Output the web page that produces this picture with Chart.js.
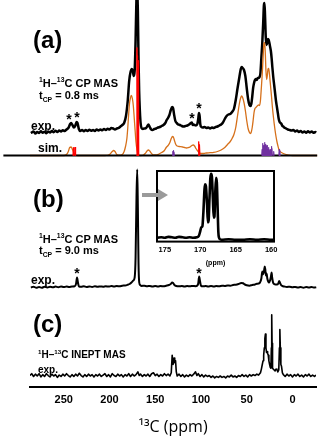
<!DOCTYPE html>
<html>
<head>
<meta charset="utf-8">
<script src="https://cdn.jsdelivr.net/npm/chart.js@4.4.1/dist/chart.umd.min.js"></script>
<style>
body { margin: 0; background: #fff; }
#wrap { position: relative; width: 320px; height: 446px; overflow: hidden; font-family: "Liberation Sans", Arial, sans-serif; font-weight: bold; color: #000; }
canvas { position: absolute; left: 0; }
.t { position: absolute; white-space: nowrap; line-height: 1; }
.star { position: absolute; font-size: 14px; line-height: 1; transform: translateX(-50%); }
sup, sub { font-size: 0.62em; line-height: 0; }
</style>
</head>
<body>
<div id="wrap">
  <canvas id="ca" width="320" height="160" style="top:0"></canvas>
  <canvas id="cb" width="320" height="140" style="top:158px"></canvas>
  <canvas id="cc" width="320" height="146" style="top:300px"></canvas>
  <canvas id="ci" width="132" height="99" style="left:150px;top:168px"></canvas>

  <div class="t" style="left:33px;top:28px;font-size:24px">(a)</div>
  <div class="t" style="left:39px;top:78px;font-size:11px"><sup>1</sup>H–<sup>13</sup>C CP MAS</div>
  <div class="t" style="left:39px;top:90px;font-size:11px">t<sub>CP</sub> = 0.8 ms</div>
  <div class="t" style="left:31px;top:120px;font-size:12px">exp.</div>
  <div class="t" style="left:38px;top:142px;font-size:12px">sim.</div>
  <div class="star" style="left:69px;top:112px">*</div>
  <div class="star" style="left:77px;top:110px">*</div>
  <div class="star" style="left:192px;top:111px">*</div>
  <div class="star" style="left:199px;top:101px">*</div>

  <div class="t" style="left:33px;top:187px;font-size:24px">(b)</div>
  <div class="t" style="left:39px;top:234px;font-size:11px"><sup>1</sup>H–<sup>13</sup>C CP MAS</div>
  <div class="t" style="left:39px;top:245px;font-size:11px">t<sub>CP</sub> = 9.0 ms</div>
  <div class="t" style="left:31px;top:274px;font-size:12px">exp.</div>
  <div class="star" style="left:77px;top:266px">*</div>
  <div class="star" style="left:199px;top:266px">*</div>
  <svg style="position:absolute;left:140px;top:188px" width="30" height="14"><path d="M2 5 H18 V1 L28 7 L18 13 V9 H2 Z" fill="#9a9a9a"/></svg>

  <div class="t" style="left:33px;top:312px;font-size:24px">(c)</div>
  <div class="t" style="left:38px;top:350px;font-size:10px"><sup>1</sup>H–<sup>13</sup>C INEPT MAS</div>
  <div class="t" style="left:38px;top:365px;font-size:10px">exp.</div>
</div>
<script>
// tick labels
const ppmTicks = [250, 200, 150, 100, 50, 0];
const insetTicks = [175, 170, 165, 160];

// (a) CP 0.8 ms, experimental trace [ppm, intensity]
const expA = [[286,0],[283,1.5],[281,-0.5],[279,1],[277,0],[275,1.8],[273,0.3],[271,1.2],[269,-0.3],[267,1.5],[265,0.5],[263,2],[261,0.8],[259,2.2],[257,1],[255,2.5],[253,1.5],[251,2.8],[249,2],[247,3.5],[245,5],[243,9],[242,10],[240.5,8],[239,5.5],[237.5,7],[236,11],[235,10],[233.5,4],[232,2],[230,3],[228,1.8],[226,3],[224,2],[222,3.2],[220,2.2],[218,3],[216,2],[214,3.5],[212,2.5],[210,3.5],[208,2.8],[206,4],[204,3],[202,4.2],[200,3.5],[198,5],[196,4.5],[194,3.5],[192,4.5],[190,5],[188,6.5],[186,8],[184,10],[182,17],[180,33],[178.5,52],[177,61],[175.5,64],[174.5,62],[173.5,57],[172.5,62],[171.5,92],[170.6,132],[169.8,140],[169,122],[168.3,75],[167.6,42],[166.8,22],[166,10],[165,5],[163.5,4],[162,4.5],[160,5],[158.5,7],[157.5,8.5],[156,6],[154.5,3.5],[153,3],[151,4],[149,4.5],[147,5.5],[145,6],[143,7],[141,8],[139,10],[137.5,13],[136,15],[134.5,18],[133,23],[131.5,26],[130.5,25],[129.5,19],[128,12],[126.5,10],[125,8.5],[123,8],[121,7],[119,6.5],[117,7],[115,7.5],[113,8.5],[111,10],[110,10.5],[109,8],[108,8.5],[107,8],[105.5,7.5],[104,9],[103,14],[102.2,20],[101.5,17],[100.8,9],[99.5,6],[98,5.5],[96,6],[94,5],[92,5.5],[90,4.5],[88,5.5],[86,5],[84,6],[82,6.5],[80,7.5],[78,8.5],[76,10.5],[74,14],[72,17],[70,18.5],[68,19],[66,21],[64,24],[62,33],[60,45],[58,56],[56.5,64],[55.5,66],[54.5,65],[53,63],[51.5,57],[50,45],[48.5,34],[47,28],[46,27],[45,29],[44,36],[43,45],[42,50],[41,53],[40,54],[39,53],[38,55],[37,55],[36,56],[35,60],[34,75],[33,90],[32,110],[31.2,128],[30.6,130],[30,118],[29.2,96],[28.4,88],[27.6,90],[26.8,94],[26,93],[25.2,90],[24.4,86],[23.6,82],[22.8,75],[22,66],[21,56],[20,48],[19,40],[18,32],[17,26],[16,20],[15,14],[14,11],[13,10],[12,9],[11,7],[10,6.5],[9,5.5],[8,5],[7,4.5],[6,4],[5,3.5],[3,3],[1,2.5],[-1,3],[-3,1.5],[-5,2.5],[-7,1],[-9,2],[-11,0.5],[-13,1.5],[-15,0.3],[-17,1.8],[-19,0.5],[-21,1.5],[-23,0.2],[-25,1],[-26,0.5]];

// (a) simulated spectrum
const simA = [[287,0],[250,0],[247,1],[245,4],[243.5,8],[242,8.5],[240.5,6],[239,2.5],[237,0.5],[235,0],[205,0],[200,1],[197,4],[195.5,5],[194,4],[192,1],[190,0.3],[186,1],[184,4],[182.5,9],[181,17],[180,28],[179,42],[178,53],[177,58],[176,60],[175,57],[174,50],[173,38],[172,25],[171,13],[170,6],[169,2],[168,0.5],[166,0],[163,0.5],[161,2],[159,4.5],[157.5,5.5],[156,4.5],[154,2],[152,0.5],[149,0.5],[146,1.5],[143,3],[140,5],[138,8],[136,10],[134,13],[132.5,17],[131,19],[130,18],[129,15],[127.5,11],[126,9.5],[124,9],[122,8.8],[120,8.5],[118,8],[116,7.5],[114,7.8],[112,8.5],[110,10],[108.5,10.5],[107,9.5],[105.5,7],[104,5],[102,3],[100,2],[97,2],[94,2.5],[90,2.8],[86,3.2],[82,4],[78,5.5],[74,8],[71,11],[68,14],[66,17],[64,21],[62,28],[60,40],[58,52],[56.5,58],[55.5,59.5],[54.5,58],[53,53],[51.5,45],[50,35],[48.5,27],[47,23],[46,22],[45,23.5],[44,28],[43,35],[42,43],[41,47],[40,48],[39,49],[38,50],[37,50.5],[36,50],[35,55],[34,68],[33,82],[32,100],[31.2,112],[30.5,113],[29.8,105],[29,85],[28.2,76],[27.5,80],[26.8,86],[26,87],[25.2,82],[24.4,74],[23.6,66],[22.8,58],[22,49],[21,40],[20,32],[19,25],[18,19],[17,14],[16,10],[15,6.5],[14,4.5],[12,3],[10,2],[7,1],[4,0.4],[0,0],[-27,0]];
const simBaseA = [[316,0],[-27,0]];
// assigned lines [ppm, height]
const redA = [[239.5,8],[237.6,8.5],[170.0,108],[169.3,100],[168.7,95],[102.5,14],[101.6,11]];
const purpleA = [[131,4],[130.2,5],[129.5,3.5],[33.2,6],[32.5,12],[31.8,8],[31.2,10],[30.5,13],[29.8,9],[29.2,11],[28.5,7],[27.8,10],[27,6],[26.2,8],[25.5,5],[24.5,6],[23,9],[22.4,7],[20.5,4],[14.5,6],[13.8,5]];

// (b) CP 9.0 ms
const expB = [[286,0],[283,0.8],[280,-0.3],[277,0.6],[274,-0.2],[271,0.7],[268,0],[265,0.8],[262,0.2],[259,0.9],[256,0.3],[253,1],[250,0.4],[247,0.9],[244,0.5],[241,1],[238,1.2],[236.5,4],[235.5,10],[234.5,5],[233.5,1.2],[231,0.8],[228,1.2],[225,0.5],[222,1.1],[219,0.6],[216,1.2],[213,0.7],[210,1.1],[207,0.8],[204,1.3],[201,0.9],[198,1.4],[195,1],[192,1.5],[189,1.2],[186,1.8],[183,2],[180,2.8],[178,3.5],[176,5],[174,7],[172.5,10],[171.5,30],[170.5,90],[169.7,118],[169,80],[168.3,25],[167.5,5],[166.5,2.5],[165,1.5],[162,1.8],[159,1.2],[156,1.6],[153,1],[150,1.4],[147,1],[144,1.5],[141,1.2],[138,1.8],[135,2.5],[133,3.5],[131.5,5],[130.5,4.5],[129,2.5],[127,1.5],[124,1.2],[121,1.5],[118,1],[115,1.5],[112,1.2],[109,1.6],[106,1.3],[104,2],[103,4],[102,11],[101,6],[100,1.8],[98,1.2],[95,1.5],[92,1],[89,1.4],[86,1],[83,1.5],[80,1.2],[77,1.8],[74,1.5],[71,2],[68,1.8],[65,2.5],[62,2.8],[59,3.5],[56,4.5],[54,4.2],[52,3],[50,2.2],[47,1.8],[44,2.5],[41,3],[39,3.8],[37,4],[35.5,5],[34,9],[33,16],[32.5,13],[31.8,14],[31,17],[30.3,21],[29.7,18],[29,12],[28.3,14],[27.5,9],[26.5,6],[25.5,5],[24.5,7],[23.5,11],[22.8,15],[22.2,10],[21.2,5],[20,3.5],[18.5,3],[17,3],[15.5,4],[14.5,6.5],[13.8,5],[12.5,2.5],[11,1.5],[9,1],[6,0.5],[3,0.8],[0,0.2],[-3,0.6],[-6,0],[-9,0.5],[-12,-0.2],[-15,0.4],[-18,0],[-21,0.4],[-24,-0.1],[-26,0.3]];

// (b) inset, carbonyl region
const insetB = [[176,4],[175.5,4.5],[175,4],[174.5,5],[174,4.5],[173.5,4],[173,5],[172.5,4.5],[172,4],[171.5,4.5],[171,4],[170.5,4.5],[170.2,6],[170,11],[169.85,15],[169.7,16],[169.55,32],[169.4,55],[169.3,60],[169.2,58],[169.05,40],[168.92,20],[168.82,22],[168.7,45],[168.58,66],[168.47,71],[168.36,68],[168.22,45],[168.1,25],[168,26],[167.88,52],[167.77,67],[167.66,62],[167.55,35],[167.45,10],[167.35,4],[167.2,2.5],[167,2],[166,2.5],[165,2],[164,2],[163,2.5],[162,2],[161,2.5],[160,2],[159.6,2]];

// (c) INEPT
const expC = [[287,0],[285,2],[283,-1],[281,1.5],[279,-0.5],[277,2],[275,-1.5],[273,1],[271,-1],[269,2],[267,0],[265,-1.5],[263,1.5],[261,-0.5],[259,1],[257,-2],[255,0.5],[253,-1],[251,1.5],[249,-0.5],[247,2],[245,0],[243,-1.5],[241,1],[239,-1],[237,1.5],[235,-0.5],[233,2.5],[231,0],[229,-1.5],[227,1],[225,-1],[223,1.5],[221,-0.5],[219,1],[217,-1.5],[215,1],[213,-0.5],[211,1.5],[209,-1],[207,0.5],[205,2],[203,-1],[201,1],[199,-1.5],[197,2],[195,0],[193,-1],[191,1.5],[189,-0.5],[187,1],[185,-1.5],[183,1],[181,-0.5],[179,2],[177,-1],[175,1.5],[173,-0.5],[171,1],[169,4],[167.5,0],[166,1.5],[164,-1],[162,1],[160,-0.5],[158,1.5],[156,-1],[154,2],[152,3],[150,0],[148,1.5],[146,-1],[144,1],[142,-0.5],[140,2],[138,0],[136,1.5],[134,-0.5],[132.5,3],[131.5,22],[130.5,12],[129.5,19],[128.7,14],[127.8,16],[127,4],[126,-0.5],[124,1.5],[122,-1],[120,1],[118,-1.5],[116,0.5],[114,-1],[112,1],[110,-0.5],[108,1.5],[106,4],[104.5,0],[103,2],[101,-1],[99,1],[97,-1.5],[95,0.5],[93,-1],[91,0],[89,-2],[87,-0.5],[85,-2.5],[83,-1],[81,-2],[79,-0.5],[77,-2],[75,-1],[73,-2.5],[71,-0.5],[69,-1.5],[67,0.5],[65,-1.5],[63,-0.5],[61,-2],[59,0],[57,-1],[55,1],[53,-1],[51,0.5],[49,-1.5],[47,1],[45,-0.5],[43,1],[41,0],[39,1.5],[37,0.5],[35,3],[34,7],[33,12],[32.2,16],[31.5,22],[30.8,30],[30.2,40],[29.6,45],[29,30],[28.4,25],[27.8,26],[27.2,24],[26.5,22],[25.8,16],[25,12],[24.3,9],[23.6,8],[23.1,30],[22.7,66],[22.3,35],[21.8,8],[21,7],[20,6],[19,5],[18,7],[17,6.5],[16,4],[15,6],[14.3,30],[13.8,50],[13.3,30],[12.7,12],[12,10],[11,3],[10,1],[8,-1],[6,1.5],[4,-0.5],[2,1],[0,-1.5],[-2,1],[-4,-0.5],[-6,1.5],[-8,-1],[-10,0.5],[-12,-1.5],[-14,1],[-16,-0.5],[-18,1.5],[-20,-1],[-22,0.5],[-24,-1],[-25.7,0.5]];

const pts = a => a.map(p => ({x: p[0], y: p[1]}));
// narrow stick peaks, broken apart by a gap after each
const sticks = (a, w) => a.flatMap(p => [{x: p[0] + w, y: 0}, {x: p[0], y: p[1]}, {x: p[0] - w, y: 0}, {x: p[0] - w, y: null}]);
const line = (data, color, width, yAxisID, fill, smooth) => ({
    data, yAxisID, borderColor: color, backgroundColor: color, borderWidth: width,
    pointRadius: 0, tension: smooth ? 0.4 : 0, cubicInterpolationMode: smooth ? 'monotone' : 'default',
    fill: fill || false, spanGaps: false, borderJoinStyle: 'round'
});
const base = {
    responsive: false, animation: false, events: [],
    plugins: { legend: { display: false }, tooltip: { enabled: false } }
};
const font = (size) => ({ family: 'Liberation Sans', size, weight: 'bold' });
const fixTicks = list => s => { s.ticks = list.map(v => ({ value: v })); };

new Chart(document.getElementById('ca'), {
    type: 'line',
    data: { datasets: [
        line(sticks(purpleA, 0.35), '#7030A0', 1.2, 'ySim', 'origin'),
        line(sticks(redA, 0.55), '#FF0000', 1, 'ySim', 'origin'),
        line(pts(simBaseA), '#000', 2, 'ySim'),
        line(pts(simA), '#D6701A', 1.3, 'ySim', false, true),
        line(pts(expA), '#000', 2.5, 'yExp', false, true)
    ]},
    options: { ...base, layout: { padding: 0 }, scales: {
        x: { type: 'linear', reverse: true, min: -30.1, max: 319.7, display: false },
        ySim: { min: -4.5, max: 155.5, display: false },
        yExp: { min: -27, max: 133, display: false }
    }}
});

new Chart(document.getElementById('cb'), {
    type: 'line',
    data: { datasets: [line(pts(expB), '#000', 2, 'y', false, true)] },
    options: { ...base, layout: { padding: 0 }, scales: {
        x: { type: 'linear', reverse: true, min: -30.1, max: 319.7, display: false },
        y: { min: -10.5, max: 129.5, display: false }
    }}
});

const boxPlugin = {
    id: 'box',
    afterDraw(c) {
        const a = c.chartArea, g = c.ctx;
        g.save();
        g.lineWidth = 2;
        g.strokeStyle = '#000';
        g.strokeRect(a.left, a.top, a.right - a.left, a.bottom - a.top);
        g.restore();
    }
};

new Chart(document.getElementById('ci'), {
    type: 'line',
    data: { datasets: [line(pts(insetB), '#000', 2.6, 'y', false, true)] },
    plugins: [boxPlugin],
    options: { ...base, layout: { padding: { left: 7, right: 8, top: 3, bottom: 0 } }, scales: {
        x: { type: 'linear', reverse: true, min: 159.6, max: 176.1,
             grid: { display: false, drawTicks: false }, border: { display: false },
             afterBuildTicks: fixTicks(insetTicks),
             ticks: { color: '#000', font: font(7.5), padding: 4, maxRotation: 0, autoSkip: false },
             title: { display: true, text: '(ppm)', color: '#000', font: font(7), padding: 0 } },
        y: { min: 0, max: 74, display: false }
    }}
});

new Chart(document.getElementById('cc'), {
    type: 'line',
    data: { datasets: [line(pts(expC), '#000', 1.6, 'y')] },
    options: { ...base, layout: { padding: { left: 30, right: 4, top: 0, bottom: 0 } }, scales: {
        x: { type: 'linear', reverse: true, min: -25.7, max: 286.9,
             grid: { display: false, drawTicks: false },
             border: { display: true, color: '#000', width: 2 },
             afterBuildTicks: fixTicks(ppmTicks),
             ticks: { color: '#000', font: font(11), padding: 7, maxRotation: 0, autoSkip: false },
             title: { display: true, text: '¹³C (ppm)', color: '#000',
                      font: { family: 'Open Sans', size: 16 }, padding: { top: 4, bottom: 9 } } },
        y: { min: -12, max: 82, display: false }
    }}
});
</script>
</body>
</html>
